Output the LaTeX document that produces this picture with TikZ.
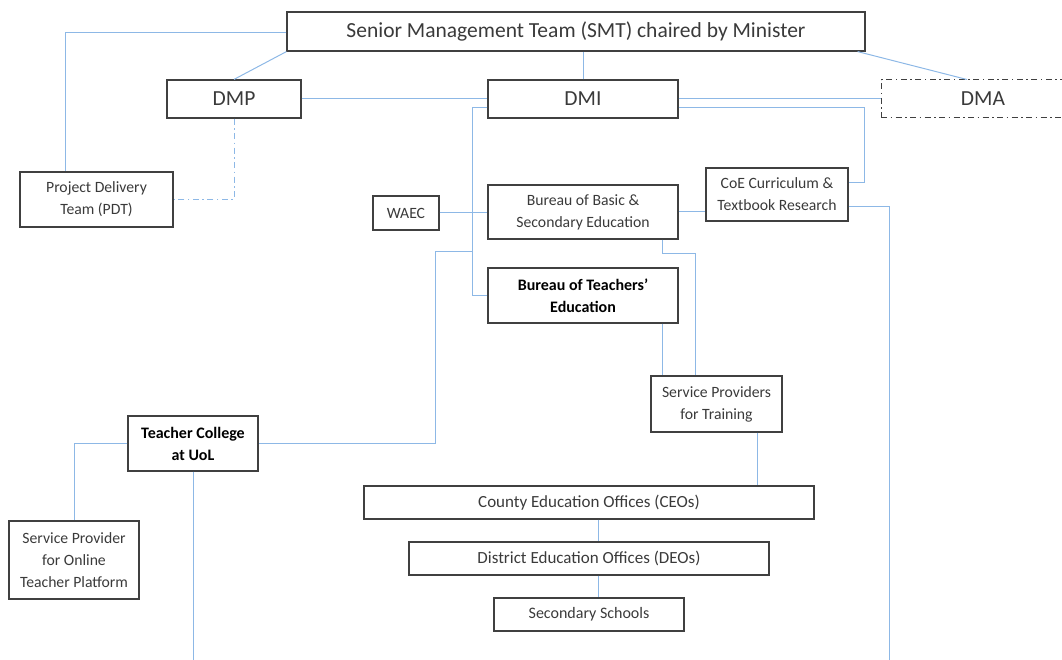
\documentclass[tikz,border=0pt]{standalone}
\usepackage{fontspec}
\setmainfont{Carlito}
\definecolor{lnk}{HTML}{8DB8E6}
\definecolor{bdr}{HTML}{404040}
\definecolor{txt}{HTML}{3A3A3A}
\begin{document}
\begin{tikzpicture}[x=1pt,y=-1pt,
  box/.style={draw=bdr,line width=1.2pt,rectangle,inner sep=0pt,align=center,text=txt,
    font=\fontsize{15.7}{22}\selectfont},
  boldbox/.style={box,text=black,font=\fontsize{16}{22}\selectfont\bfseries},
  widebox/.style={box,font=\fontsize{17}{22}\selectfont},
  bigbox/.style={box,font=\fontsize{21.5}{24}\selectfont},
  lnkline/.style={draw=lnk,line width=1pt},
  dashdot/.style={dash pattern=on 6pt off 3.5pt on 1.5pt off 3.5pt}]
\useasboundingbox (0,0) rectangle (1062,660);
\clip (0,0) rectangle (1062,660);
% nodes
\node[bigbox,minimum width=578,minimum height=39] (smt) at (576,31.5) {Senior Management Team (SMT) chaired by Minister};
\node[bigbox,minimum width=134,minimum height=38] (dmp) at (234,99) {DMP};
\node[bigbox,minimum width=190,minimum height=38] (dmi) at (583,99) {DMI};
\node[bigbox,line width=1pt,dashdot,minimum width=204,minimum height=38] (dma) at (983,99) {DMA};
\node[box,minimum width=153,minimum height=55] (pdt) at (96.5,199.5) {Project Delivery\\Team (PDT)};
\node[box,minimum width=66,minimum height=34] (waec) at (406,213) {WAEC};
\node[box,minimum width=190,minimum height=54] (bbse) at (583,212) {Bureau of Basic \&\\Secondary Education};
\node[box,minimum width=142,minimum height=53] (coe) at (777,194.5) {CoE Curriculum \&\\Textbook Research};
\node[boldbox,minimum width=190,minimum height=55] (bte) at (583,295.5) {Bureau of Teachers’\\Education};
\node[box,minimum width=131,minimum height=56] (spt) at (716.5,404) {Service Providers\\for Training};
\node[boldbox,minimum width=130,minimum height=55] (tcu) at (193,443.5) {Teacher College\\at UoL};
\node[box,minimum width=130,minimum height=78] (spo) at (74,560) {Service Provider\\for Online\\Teacher Platform};
\node[widebox,minimum width=450,minimum height=33] (ceo) at (589,502.5) {County Education Offices (CEOs)};
\node[widebox,minimum width=360,minimum height=33] (deo) at (589,558.5) {District Education Offices (DEOs)};
\node[box,font=\fontsize{16}{22}\selectfont,minimum width=190,minimum height=33] (ss) at (589,614.5) {Secondary Schools};
% free coordinates
\coordinate (trunk) at (472,108);
\coordinate (branch) at (472,252);
\coordinate (coeend) at (889,660);
\coordinate (tcuend) at (193,660);
% connectors
\draw[lnkline] ([yshift=-1.5pt]smt.west) -| ([xshift=-31.5pt]pdt.north);
\draw[lnkline] (smt.south west) -- (dmp.north);
\draw[lnkline] (dmi.north) -- (dmi.north |- smt.south);
\draw[lnkline] ([xshift=-8pt]smt.south east) -- ([xshift=-16pt]dma.north);
\draw[lnkline] (dmp.east) -- (dmi.west);
\draw[lnkline,dashdot,line width=0.8pt] (dmp.south) |- (pdt.east);
\draw[lnkline] (dmi.east) -- (dma.west);
\draw[lnkline] ([yshift=-9pt]dmi.east) -- ([yshift=-9pt,xshift=186pt]dmi.east) |- ([yshift=11.5pt]coe.east);
\draw[lnkline] ([yshift=-9pt]dmi.west) -- (trunk) |- (bte.west);
\draw[lnkline] (branch) -- ++(-37,0) |- (tcu.east);
\draw[lnkline] (waec.east) -- (waec.east -| bbse.west);
\draw[lnkline] (bbse.east) -- (bbse.east -| coe.west);
\draw[lnkline] ([yshift=-12.5pt]coe.east) -| (coeend);
\draw[lnkline] (tcu.west) -| (spo.north);
\draw[lnkline] (tcu.south) -- (tcuend);
\draw[lnkline] ([xshift=79pt]bbse.south) -- ++(0,14) -| ([xshift=-21.5pt]spt.north);
\draw[lnkline] ([xshift=79pt]bte.south) -- ([xshift=79pt]bte.south |- spt.north);
\draw[lnkline] ([xshift=40.5pt]spt.south) -- ([xshift=40.5pt]spt.south |- ceo.north);
\draw[lnkline] ([xshift=9pt]ceo.south) -- ([xshift=9pt]deo.north);
\draw[lnkline] ([xshift=9pt]deo.south) -- ([xshift=9pt]ss.north);
\end{tikzpicture}
\end{document}
